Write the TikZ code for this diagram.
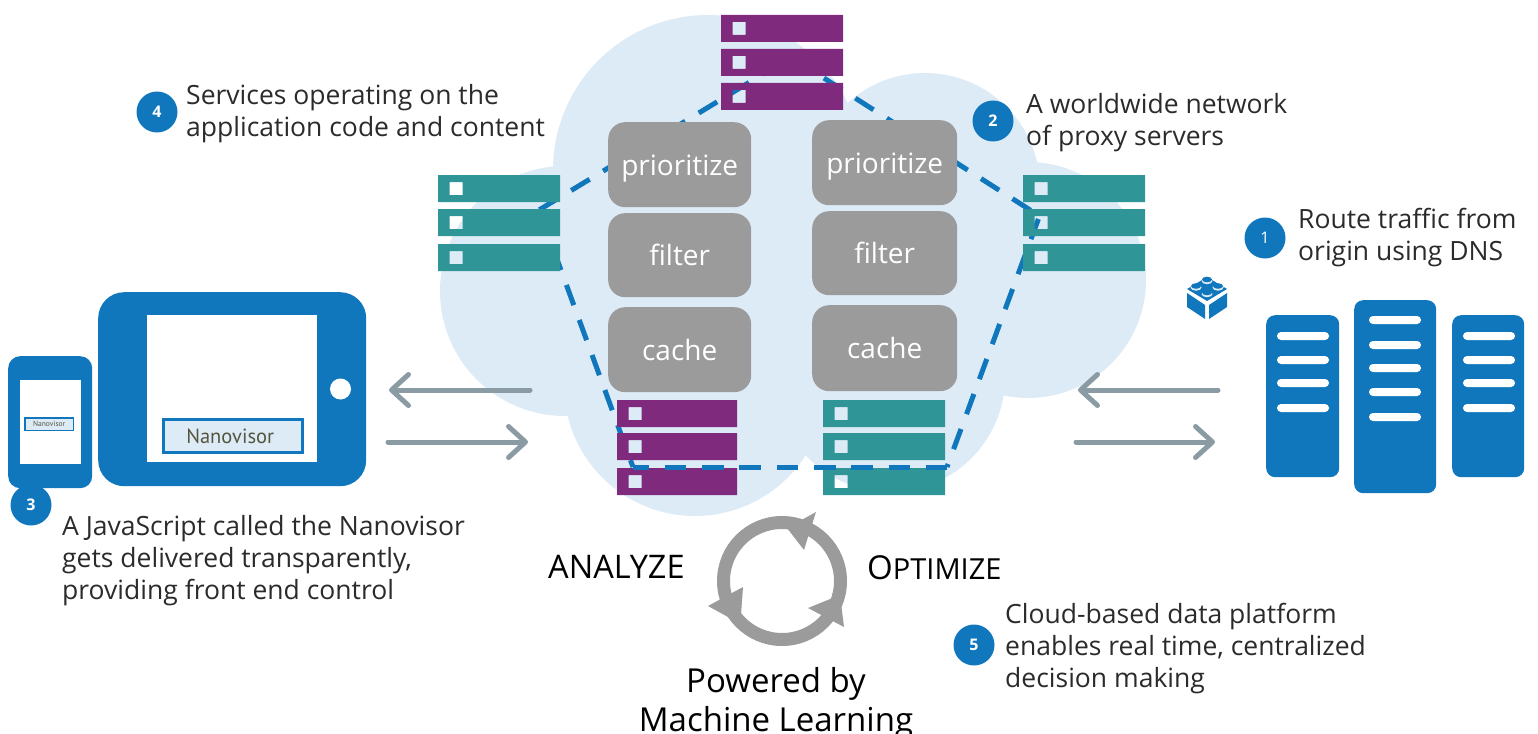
\documentclass[tikz,border=0pt]{standalone}
\usepackage{fontspec}
\setmainfont{Open Sans}
\newfontfamily\navfont{PT Sans}
\usetikzlibrary{arrows.meta}
\definecolor{brandblue}{HTML}{1177BD}
\definecolor{cloudblue}{HTML}{DDEBF7}
\definecolor{plum}{HTML}{7F2A7C}
\definecolor{tealbar}{HTML}{2F9596}
\definecolor{boxgrey}{HTML}{9B9B9B}
\definecolor{arrowgrey}{HTML}{8A9BA3}
\definecolor{inkdark}{HTML}{2B2B2B}
\definecolor{navink}{HTML}{55553F}
\tikzset{
  rowbar/.style={anchor=north west,inner sep=0pt,outer sep=0pt,minimum height=27pt},
  rowsq/.style={anchor=center,inner sep=0pt,outer sep=0pt,minimum width=13pt,minimum height=13pt},
  greybox/.style={anchor=north west,inner sep=0pt,fill=boxgrey,rounded corners=17pt,text=white,text height=24pt,text depth=3pt,font=\fontsize{28}{34}\selectfont},
  badge/.style={circle,fill=brandblue,text=white,inner sep=0pt,minimum size=41pt,font=\bfseries\fontsize{16}{18}\selectfont},
  caption/.style={anchor=base west,inner sep=0pt,align=left,text=inkdark,font=\fontsize{26.5}{32}\selectfont},
  bigtext/.style={inner sep=0pt,text=black,font=\fontsize{33}{39}\selectfont},
  routepath/.style={draw=brandblue,line width=5pt,dash pattern=on 21.5pt off 15.8pt},
  flow/.style={draw=arrowgrey,line width=5pt,line cap=round,-{Straight Barb[length=17pt,width=31pt,line width=5pt,round]}},
  devbody/.style={anchor=north west,inner sep=0pt,fill=brandblue},
  screen/.style={anchor=north west,inner sep=0pt,fill=white},
  navedge/.style={anchor=north west,inner sep=0pt,fill=brandblue},
  navbox/.style={anchor=center,inner sep=0pt,fill=cloudblue,text=navink},
  rack/.style={anchor=north west,inner sep=0pt,fill=brandblue,rounded corners=9pt},
  rackbar/.style={fill=white,rounded corners=4pt,inner sep=0pt,minimum width=52pt,minimum height=8pt},
}
\newcommand{\serverstack}[5]{% name, x, width, y-top of rows list, colour
  \foreach \ry [count=\ri] in {#4}{
    \node[rowbar,minimum width=#3pt] (#1r\ri) at (#2,\ry) {};
    \node[rowsq] (#1s\ri) at ([xshift=18pt]#1r\ri.west) {};
    \fill[#5,even odd rule] (#1r\ri.north west) rectangle (#1r\ri.south east)
      (#1s\ri.north west) rectangle (#1s\ri.south east);
  }
}
\begin{document}
\begin{tikzpicture}[x=1pt,y=-1pt]
\useasboundingbox (0,0) rectangle (1538,733);
% cloud: overlapping lobes
\fill[cloudblue] (708,170) circle [radius=155pt];
\fill[cloudblue] (925,188) circle [radius=115pt];
\fill[cloudblue] (1028,280) circle [radius=118pt];
\fill[cloudblue] (890,377) circle [radius=115pt];
\fill[cloudblue] (695,385) circle [radius=131pt];
\fill[cloudblue] (565,291) circle [radius=125pt];
\fill[cloudblue] (640,200) rectangle (960,400);
% route (behind the rows, seen through their square holes)
\coordinate (apex) at (791,57);
\coordinate (westpt) at (539,210);
\coordinate (eastpt) at (1039.5,216);
\coordinate (swpt) at (633,467);
\coordinate (sept) at (947,467);
\draw[routepath,dash phase=25.5pt] (apex) -- (westpt);
\draw[routepath,dash phase=35.5pt] (apex) -- (eastpt);
\draw[routepath,dash phase=32.1pt] (westpt) -- (swpt);
\draw[routepath,dash phase=18.3pt] (sept) -- (eastpt);
% stacks
\serverstack{top}{721}{122}{15,49,83}{plum}
\serverstack{west}{438}{122}{175,209,244}{tealbar}
\serverstack{east}{1023}{122}{175,209,244}{tealbar}
\serverstack{botp}{617}{120}{400,433,468}{plum}
\serverstack{bott}{823}{122}{400,433,468}{tealbar}
\draw[routepath,dash phase=5.5pt] (swpt) -- (sept);
% filter boxes
\foreach \bname/\bx/\by/\bh/\bt in {lp/608/122/85/prioritize,lf/608/213/84/filter,lc/608/307/85/cache}{
  \node[greybox,minimum width=143pt,minimum height=\bh pt] (\bname) at (\bx,\by) {\bt};
}
\foreach \bname/\bx/\by/\bh/\bt in {rp/812/120/85/prioritize,rf/812/211/84/filter,rc/812/305/86/cache}{
  \node[greybox,minimum width=145pt,minimum height=\bh pt] (\bname) at (\bx,\by) {\bt};
}
% devices
\node[devbody,rounded corners=26pt,minimum width=268pt,minimum height=194pt] (tablet) at (98,292) {};
\node[screen,minimum width=170pt,minimum height=147pt] (tabscreen) at (147,315) {};
\node[circle,fill=white,inner sep=0pt,minimum size=21pt] (tabbtn) at (340.5,389) {};
\node[navedge,minimum width=142pt,minimum height=36pt] (tabedge) at (162,418) {};
\node[navbox,minimum width=136pt,minimum height=30pt,font=\navfont\fontsize{20.5}{24}\selectfont] (tabnav) at (tabedge.center) {\hspace*{-6pt}Nanovisor};
\node[devbody,rounded corners=12pt,minimum width=84pt,minimum height=132pt] (phone) at (8,356) {};
\node[screen,minimum width=61pt,minimum height=84pt] (phscreen) at (20,380) {};
\node[navedge,minimum width=50pt,minimum height=14pt] (phedge) at (24,417) {};
\node[navbox,minimum width=47pt,minimum height=11pt,font=\navfont\fontsize{7.5}{9}\selectfont] (phnav) at (phedge.center) {Nanovisor};
% racks
\foreach \rname/\rx/\ry/\rw/\rh in {ra/1266/315/73/162,rb/1354/300/82/193,rc2/1452/315/72/162}{
  \node[rack,minimum width=\rw pt,minimum height=\rh pt] (\rname) at (\rx,\ry) {};
}
\foreach \bary in {336,360,383,408}{
  \node[rackbar] at (1303,\bary) {};
  \node[rackbar] at (1489,\bary) {};
}
\foreach \bary in {320,345,368,392,417}{
  \node[rackbar] at (1395,\bary) {};
}
% lego icon
\fill[brandblue] (1207,277) -- (1227,289) -- (1207,301) -- (1187,289) -- cycle;
\fill[brandblue] (1187,293) -- (1205,305) -- (1205,319) -- (1187,307) -- cycle;
\fill[brandblue] (1227,293) -- (1209,305) -- (1209,319) -- (1227,307) -- cycle;
\foreach \sx/\sy in {1207/280,1196/286.5,1218/286.5,1207/293}{
  \fill[cloudblue] (\sx,\sy+1) ellipse [x radius=5.5pt,y radius=3.2pt];
  \fill[brandblue] (\sx,\sy-0.5) ellipse [x radius=5pt,y radius=2.8pt];
}
% flow arrows
\coordinate (la1) at (530,390); \coordinate (la2) at (389,390);
\coordinate (la3) at (388,442); \coordinate (la4) at (528,442);
\coordinate (ra1) at (1218,390); \coordinate (ra2) at (1078,390);
\coordinate (ra3) at (1076,442); \coordinate (ra4) at (1215,442);
\draw[flow] (la1) -- (la2);
\draw[flow] (la3) -- (la4);
\draw[flow] (ra1) -- (ra2);
\draw[flow] (ra3) -- (ra4);
% cycle
\draw[boxgrey,line width=13pt] (782,581) circle [radius=58.5pt];
\fill[boxgrey] (816,512) -- (787,528) -- (804,550) -- (808,537) -- cycle;
\fill[boxgrey] (708,606) -- (743,587) -- (741,615) -- (728,617) -- cycle;
\fill[boxgrey] (844,627) -- (808,608) -- (840,595) -- cycle;
% badges
\node[badge] (b4) at (157,112) {4};
\node[badge] (b2) at (993,121) {2};
\node[badge,font=\fontsize{16}{18}\selectfont] (b1) at (1265,238) {1};
\node[badge] (b5) at (974,645) {5};
\node[badge] (b3) at (31,505) {3};
% captions
\node[caption] (t4) at (186,136.5) {Services operating on the\\application code and content};
\node[caption] (t2) at (1026,145) {A worldwide network\\of proxy servers};
\node[caption] (t1) at (1298,260) {Route traffic from\\origin using DNS};
\node[caption] (t3) at (62,599) {A JavaScript called the Nanovisor\\gets delivered transparently,\\providing front end control};
\node[caption] (t5) at (1005,687) {Cloud-based data platform\\enables real time, centralized\\decision making};
\node[bigtext,anchor=base west] (an) at (548,578) {\fontsize{32.5}{39}\selectfont ANALYZE};
\node[bigtext,anchor=base west] (op) at (867,579) {O{\fontsize{29}{30}\selectfont PTIMIZE}};
\node[bigtext,anchor=base,align=center] (pw) at (776,731) {Powered by\\Machine Learning};
\end{tikzpicture}
\end{document}
